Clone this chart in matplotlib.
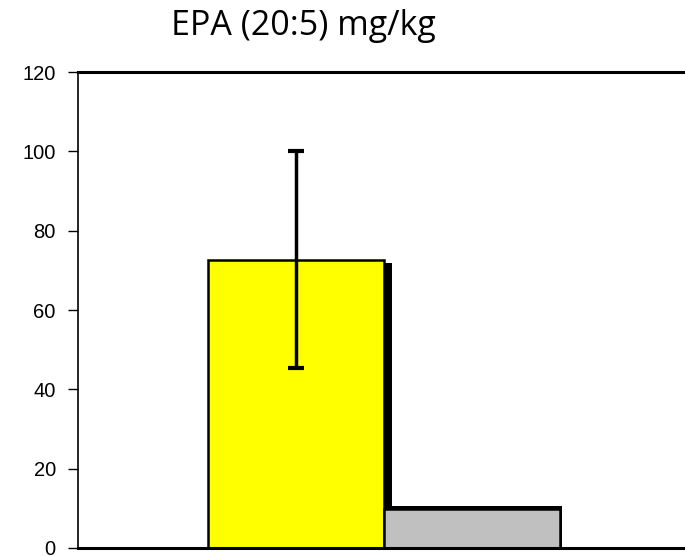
import matplotlib
matplotlib.use("Agg")
import matplotlib.pyplot as plt

# values
groups = ["A", "B"]
values = [72.7, 9.8]
err_low = [27.4, 0]
err_high = [27.4, 0]
colors = ["#ffff00", "#c0c0c0"]
title = "EPA (20:5) mg/kg"
yticks = [0, 20, 40, 60, 80, 100, 120]

fig = plt.figure(figsize=(6.85, 5.56), dpi=100)
ax = fig.add_axes([0.114, 0.0144, 0.886, 0.856])

x = [1, 2]
# black drop shadow behind the bars
ax.bar(x[0] + 0.045, values[0] - 0.8, width=1, color="black", zorder=1)
ax.bar(x[1] + 0.01, values[1] + 0.9, width=1, color="black", zorder=1)
ax.bar(x, values, width=1, color=colors, edgecolor="black", linewidth=1.8, zorder=2)
ax.errorbar(x[0], values[0], yerr=[[err_low[0]], [err_high[0]]], fmt="none",
            ecolor="black", elinewidth=2.5, capsize=6, capthick=3, zorder=3)

ax.set_xlim(-0.239, 3.21)
ax.set_ylim(0, 120)
ax.set_yticks(yticks)
ax.set_yticklabels([str(t) for t in yticks], fontsize=14.5,
                   family="Liberation Sans")
ax.set_xticks([])
ax.tick_params(axis="y", direction="out", length=7, width=1, pad=9)
ax.spines["right"].set_visible(False)
ax.spines["top"].set_linewidth(2.2)
ax.spines["bottom"].set_linewidth(2.2)
ax.spines["left"].set_linewidth(1.2)

fig.text(0.443, 0.937, title, ha="center", va="baseline", fontsize=24.5,
         family="Open Sans")

fig.savefig("out.png", dpi=100)
